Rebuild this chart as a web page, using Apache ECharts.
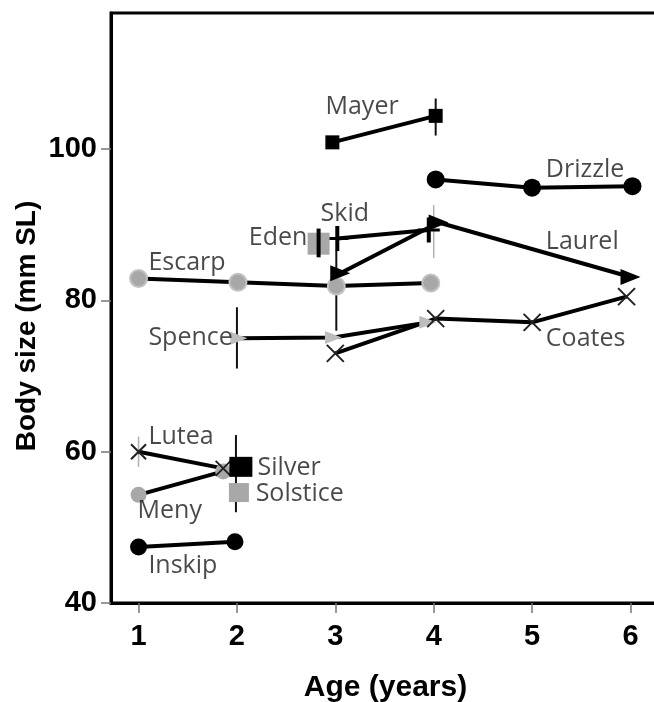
<!DOCTYPE html>
<html lang="en">
<head>
    <meta charset="UTF-8">
    <title>Body size by age</title>
    <style>
        html, body {
            margin: 0;
            padding: 0;
            background: #fff;
        }

        #main {
            width: 654px;
            height: 702px;
        }
    </style>
</head>
<body>
<div id="main"></div>
<script src="https://cdn.jsdelivr.net/npm/echarts@6/dist/echarts.min.js"></script>
<script>
    // [age, body size] per population
    const mayer = [[2.97, 100.9], [4.02, 104.4]]
    const drizzle = [[4.02, 96.0], [5.0, 94.9], [6.02, 95.1]]
    const laurel = [[3.05, 83.6], [4.05, 90.3], [6.0, 83.1]]
    const skid = [[3.02, 88.2], [3.95, 89.3]]
    const eden = [[2.83, 87.5]]
    const escarp = [[1.0, 82.9], [2.01, 82.4], [3.01, 81.9], [3.97, 82.3]]
    const spence = [[2.02, 75.0], [2.98, 75.1], [3.94, 77.1]]
    const coates = [[3.0, 73.0], [4.02, 77.6], [5.0, 77.1], [5.96, 80.5]]
    const lutea = [[1.0, 60.0], [1.86, 57.8]]
    const meny = [[1.0, 54.3], [1.86, 57.4]]
    const silver = [[2.04, 58.0]]
    const solstice = [[2.02, 54.6]]
    const inskip = [[1.0, 47.4], [1.98, 48.1]]

    // error bars: [age, low, high]
    const darkBars = [[4.02, 101.8, 106.7], [3.01, 76.0, 86.6], [2.0, 71.0, 79.1], [1.99, 52.0, 62.2]]
    const greyBars = [[4.0, 85.6, 92.6], [1.0, 58.0, 62.0]]
    const edenBars = [[2.83, 85.7, 89.5]]

    // population names and where their text sits
    const labelNames = ['Mayer', 'Drizzle', 'Skid', 'Eden', 'Laurel', 'Escarp', 'Spence',
        'Coates', 'Lutea', 'Silver', 'Solstice', 'Meny', 'Inskip']
    const labelAt = [[2.90, 105.6], [5.14, 97.2], [2.85, 91.5], [2.12, 88.3], [5.14, 87.8],
        [1.10, 85.0], [1.10, 75.0], [5.14, 74.9], [1.10, 61.9], [2.21, 57.9], [2.19, 54.4],
        [0.99, 52.2], [1.10, 44.9]]

    const xTicks = [1, 2, 3, 4, 5, 6]
    const yTicks = [40, 60, 80, 100]

    const CROSS = 'path://M0,0L17,17M17,0L0,17'
    const PLUS = 'path://M9,0h4v25h-4z M0,11h22v3h-22z'

    function line(name, data, symbol, size, color, more) {
        return Object.assign({
            name: name,
            type: 'line',
            data: data,
            symbol: symbol,
            symbolSize: size,
            lineStyle: {color: '#000', width: 4},
            itemStyle: {color: color},
            z: 2
        }, more || {})
    }

    function bars(data, color, width, z) {
        return {
            type: 'custom',
            data: data,
            encode: {x: 0, y: [1, 2]},
            z: z,
            renderItem: function (params, api) {
                let lo = api.coord([api.value(0), api.value(1)])
                let hi = api.coord([api.value(0), api.value(2)])
                return {
                    type: 'line',
                    shape: {x1: lo[0], y1: lo[1], x2: hi[0], y2: hi[1]},
                    style: {stroke: color, lineWidth: width}
                }
            }
        }
    }

    const crossStyle = {color: 'rgba(0,0,0,0)', borderColor: '#222', borderWidth: 2}

    let myChart = echarts.init(document.querySelector('#main'))
    let option = {
        animation: false,
        backgroundColor: '#fff',
        grid: {
            left: 111, right: -6, top: 13, bottom: 99,
            show: true, borderColor: '#000', borderWidth: 3,
            outerBoundsMode: 'none'
        },
        xAxis: {
            type: 'value',
            min: 0.72,
            max: 6.3,
            name: 'Age (years)',
            nameLocation: 'middle',
            nameGap: 70,
            nameTextStyle: {fontFamily: 'Liberation Sans', fontWeight: 'bold', fontSize: 30, color: '#000'},
            splitLine: {show: false},
            axisLine: {lineStyle: {color: '#000', width: 3}},
            axisTick: {customValues: xTicks, length: 10, lineStyle: {color: '#777', width: 1.5}},
            axisLabel: {
                customValues: xTicks, margin: 19,
                fontFamily: 'Liberation Sans', fontWeight: 'bold', fontSize: 29, color: '#000'
            }
        },
        yAxis: {
            type: 'value',
            min: 40,
            max: 118,
            interval: 20,
            splitLine: {show: false},
            axisLine: {show: true, lineStyle: {color: '#000', width: 3}},
            axisTick: {show: true, customValues: yTicks, length: 10, lineStyle: {color: '#777', width: 1.5}},
            axisLabel: {
                customValues: yTicks, margin: 14,
                fontFamily: 'Liberation Sans', fontWeight: 'bold', fontSize: 29, color: '#000'
            }
        },
        graphic: [{
            type: 'text',
            x: 27,
            y: 326,
            rotation: Math.PI / 2,
            style: {
                text: 'Body size (mm SL)',
                font: 'bold 28px "Liberation Sans"',
                fill: '#000',
                align: 'center',
                verticalAlign: 'middle'
            }
        }],
        series: [
            bars(darkBars, '#111', 2, 1),
            bars(greyBars, '#b0b0b0', 1.5, 1),
            line('Mayer', mayer, 'rect', 14, '#000'),
            line('Drizzle', drizzle, 'circle', 18, '#000'),
            line('Escarp', escarp, 'circle', 17, '#a8a8a8', {itemStyle: {color: '#a8a8a8', borderColor: '#c2c2c2', borderWidth: 2}}),
            line('Laurel', laurel, 'triangle', [16, 20], '#000', {symbolRotate: -90}),
            line('Skid', skid, PLUS, [22, 25], '#000'),
            line('Eden', eden, 'rect', 22, '#a8a8a8'),
            bars(edenBars, '#000', 4, 3),
            line('Spence', spence, 'triangle', [13, 17], '#bdbdbd', {symbolRotate: -90}),
            line('Coates', coates, CROSS, 17, '#000', {itemStyle: crossStyle}),
            line('Meny', meny, 'circle', 16, '#a8a8a8'),
            line('Lutea', lutea, CROSS, 15, '#000', {itemStyle: crossStyle}),
            line('Solstice', solstice, 'rect', [20, 19], '#a8a8a8'),
            line('Silver', silver, 'rect', [23, 20], '#000'),
            line('Inskip', inskip, 'circle', 17, '#000'),
            {
                type: 'scatter',
                symbolSize: 0,
                z: 5,
                data: labelAt.map((p, i) => ({value: p, name: labelNames[i]})),
                label: {
                    show: true,
                    position: 'right',
                    distance: 0,
                    formatter: '{b}',
                    fontFamily: 'Open Sans',
                    fontSize: 25,
                    color: '#1c1c1c'
                }
            }
        ]
    }
    myChart.setOption(option)
</script>
</body>
</html>
